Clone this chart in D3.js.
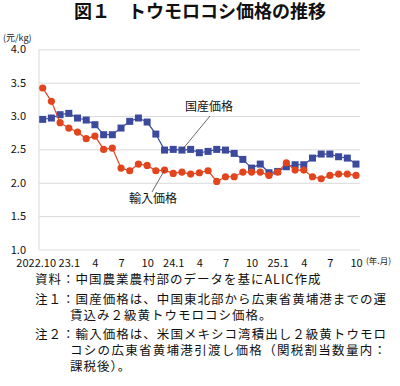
<!DOCTYPE html>
<html>
<head>
<meta charset="utf-8">
<script src="https://cdn.jsdelivr.net/npm/d3@7"></script>
<style>
body { margin: 0; background: #fff; }
text { font-family: "Noto Sans CJK JP", sans-serif; }
</style>
</head>
<body>
<script>
// monthly, 2022.10 - 2025.10
var domestic = [2.95, 2.97, 3.02, 3.04, 2.97, 2.94, 2.87, 2.72, 2.72, 2.82, 2.92, 2.97, 2.91,
  2.73, 2.49, 2.50, 2.49, 2.50, 2.45, 2.47, 2.50, 2.49, 2.44, 2.35, 2.22, 2.28,
  2.15, 2.17, 2.24, 2.27, 2.27, 2.37, 2.43, 2.43, 2.39, 2.37, 2.28];
var imported = [3.42, 3.22, 2.90, 2.82, 2.76, 2.66, 2.70, 2.50, 2.52, 2.22, 2.18, 2.28, 2.26,
  2.18, 2.19, 2.14, 2.16, 2.13, 2.15, 2.18, 2.02, 2.09, 2.09, 2.16, 2.16, 2.16,
  2.11, 2.16, 2.30, 2.19, 2.19, 2.09, 2.06, 2.11, 2.13, 2.13, 2.11];
var xLabels = ["2022.10", "23.1", "4", "7", "10", "24.1", "4", "7", "10", "25.1", "4", "7", "10"];
var yTicks = [1.0, 1.5, 2.0, 2.5, 3.0, 3.5, 4.0];
var notes = [
  "資料：中国農業農村部のデータを基にALIC作成",
  "注１：国産価格は、中国東北部から広東省黄埔港までの運",
  "賃込み２級黄トウモロコシ価格。",
  "注２：輸入価格は、米国メキシコ湾積出し２級黄トウモロ",
  "コシの広東省黄埔港引渡し価格（関税割当数量内：",
  "課税後）。"
];

var width = 400, height = 386;
var blue = "#3c4a9e", red = "#e2451e";

var svg = d3.select("body").append("svg")
  .attr("width", width)
  .attr("height", height);

var x = d3.scaleLinear().domain([0, domestic.length - 1]).range([42.7, 356]);
var y = d3.scaleLinear().domain([1, 4]).range([249.5, 49.3]);

// title
svg.append("text")
  .attr("x", 200).attr("y", 18)
  .attr("text-anchor", "middle")
  .attr("font-size", "18px")
  .attr("font-weight", "bold")
  .attr("fill", "#111")
  .text("図１　トウモロコシ価格の推移");

svg.append("text")
  .attr("x", 3).attr("y", 41)
  .attr("font-size", "9px")
  .attr("fill", "#222")
  .text("(元/kg)");

// grid + y labels
var yAxis = svg.append("g")
  .attr("transform", "translate(39,0)")
  .call(d3.axisLeft(y).tickValues(yTicks).tickSize(-321).tickFormat(d3.format(".1f")));
yAxis.select(".domain").remove();
yAxis.selectAll(".tick line").attr("stroke", "#d9d9d9");
yAxis.selectAll(".tick text")
  .attr("x", -13)
  .attr("font-family", "Liberation Sans, Arial, sans-serif")
  .attr("font-size", "11px")
  .attr("fill", "#111");

svg.append("line")
  .attr("x1", 39).attr("x2", 39)
  .attr("y1", y(4)).attr("y2", y(1))
  .attr("stroke", "#d9d9d9");

// x labels
var xAxis = svg.append("g")
  .attr("transform", "translate(0," + y(1) + ")")
  .call(d3.axisBottom(x)
    .tickValues(d3.range(0, domestic.length, 3))
    .tickSize(0)
    .tickFormat(function(d, i) { return xLabels[i]; }));
xAxis.select(".domain").remove();
xAxis.selectAll(".tick text")
  .attr("y", 10)
  .attr("font-family", "Liberation Sans, Arial, sans-serif")
  .attr("font-size", "11px")
  .attr("fill", "#111");
xAxis.selectAll(".tick text").filter(function(d) { return d === 0; }).attr("dx", -7);

svg.append("text")
  .attr("x", 366).attr("y", 264)
  .attr("font-size", "8.5px")
  .attr("fill", "#222")
  .text("(年.月)");

// series
var line = d3.line().x(function(d, i) { return x(i); }).y(function(d) { return y(d); });

svg.append("path").datum(domestic)
  .attr("d", line).attr("fill", "none")
  .attr("stroke", blue).attr("stroke-width", 1.2);
svg.selectAll(".sq").data(domestic).enter().append("rect")
  .attr("x", function(d, i) { return x(i) - 3.5; })
  .attr("y", function(d) { return y(d) - 3.5; })
  .attr("width", 7).attr("height", 7)
  .attr("fill", blue);

svg.append("path").datum(imported)
  .attr("d", line).attr("fill", "none")
  .attr("stroke", red).attr("stroke-width", 1.2);
svg.selectAll(".dot").data(imported).enter().append("circle")
  .attr("cx", function(d, i) { return x(i); })
  .attr("cy", function(d) { return y(d); })
  .attr("r", 3.6)
  .attr("fill", red);

// series labels with leader lines
svg.append("line")
  .attr("x1", 210).attr("y1", 116)
  .attr("x2", x(16)).attr("y2", y(domestic[16]))
  .attr("stroke", "#444").attr("stroke-width", 0.8);
svg.append("text")
  .attr("x", 185).attr("y", 111)
  .attr("font-size", "12px")
  .attr("fill", "#111")
  .text("国産価格");

svg.append("line")
  .attr("x1", 152).attr("y1", 192)
  .attr("x2", x(14)).attr("y2", y(imported[14]))
  .attr("stroke", "#444").attr("stroke-width", 0.8);
svg.append("text")
  .attr("x", 129).attr("y", 203)
  .attr("font-size", "12px")
  .attr("fill", "#111")
  .text("輸入価格");

// notes
var noteX = [35, 35, 70, 35, 70, 70];
var noteY = [284, 304, 320, 339, 355, 371];
var noteLen = [null, 352, null, 352, 317, null];
notes.forEach(function(t, i) {
  var el = svg.append("text")
    .attr("x", noteX[i]).attr("y", noteY[i])
    .attr("font-size", "12.5px")
    .attr("letter-spacing", "1px")
    .attr("fill", "#111")
    .text(t);
  if (noteLen[i]) el.attr("textLength", noteLen[i]).attr("lengthAdjust", "spacing");
});
</script>
</body>
</html>
